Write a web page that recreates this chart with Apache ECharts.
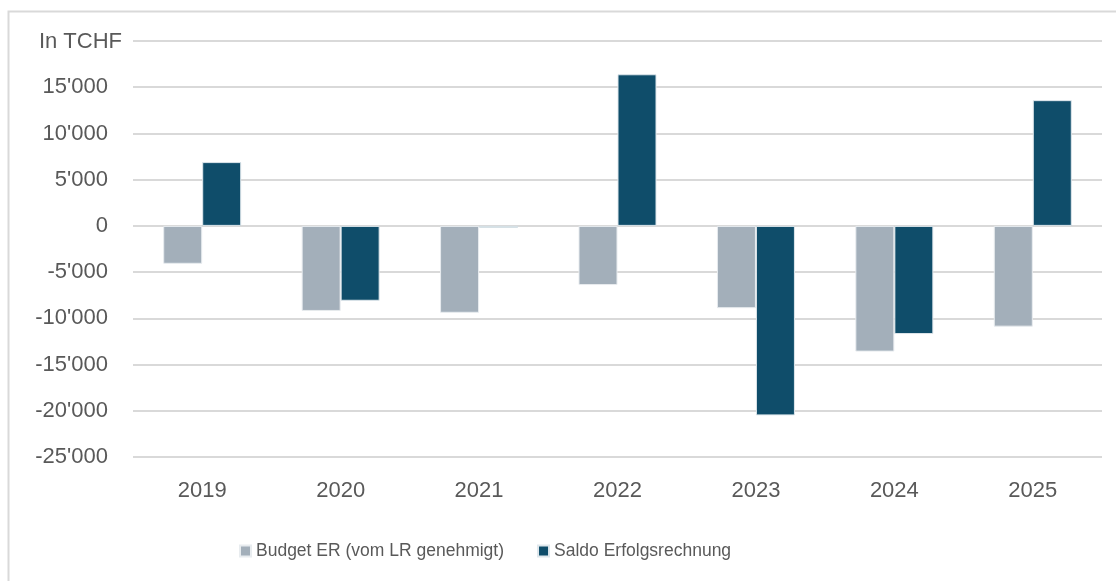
<!DOCTYPE html>
<html>
<head>
    <meta charset="utf-8" />
    <style type="text/css">
        body, html, #chart {width: 100%; height: 100%; overflow: hidden; margin: 0; background: #fff;}
    </style>
    <title>Budget ER</title>
</head>
<body>
<div id="chart"></div>
<script src="https://cdn.jsdelivr.net/npm/echarts@6/dist/echarts.min.js"></script>
<script type="text/javascript">
    var years = ['2019', '2020', '2021', '2022', '2023', '2024', '2025'];
    var budget = [-4100, -9200, -9400, -6400, -8900, -13600, -10900];
    var saldo = [6900, -8100, -200, 16400, -20500, -11700, 13600];
    var unitLabel = 'In TCHF';

    function fmt(v) {
        if (v === 20000) return '';   // top tick carries the unit instead
        var s = String(Math.abs(v)).replace(/\B(?=(\d{3})+(?!\d))/g, "'");
        return (v < 0 ? '-' : '') + s;
    }

    var myChart = echarts.init(document.getElementById('chart'));
    myChart.setOption({
        animation: false,
        textStyle: {fontFamily: 'Liberation Sans, Arial, sans-serif'},
        graphic: [{
            type: 'rect',
            shape: {x: 8.5, y: 11.5, width: 1200, height: 700},
            style: {fill: 'none', stroke: '#d9d9d9', lineWidth: 2}
        }, {
            type: 'text',
            x: 122,
            y: 42,
            style: {
                text: unitLabel,
                align: 'right',
                verticalAlign: 'middle',
                fill: '#595959',
                font: '22px Liberation Sans, Arial, sans-serif'
            }
        }],
        grid: {left: 133, right: 14, top: 41, bottom: 124},
        legend: {
            top: 537,
            left: 234,
            itemWidth: 11,
            itemHeight: 11,
            itemGap: 33,
            icon: 'rect',
            textStyle: {
                fontFamily: 'Liberation Sans Narrow, Liberation Sans, sans-serif',
                fontSize: 17.5,
                color: '#595959'
            },
            data: ['Budget ER (vom LR genehmigt)', 'Saldo Erfolgsrechnung']
        },
        xAxis: {
            type: 'category',
            data: years,
            axisLine: {show: false},
            axisTick: {show: false},
            axisLabel: {color: '#595959', fontSize: 22, margin: 23}
        },
        yAxis: {
            type: 'value',
            min: -25000,
            max: 20000,
            interval: 5000,
            axisLabel: {color: '#595959', fontSize: 22, margin: 25, formatter: fmt},
            splitLine: {lineStyle: {color: '#d9d9d9', width: 2}}
        },
        series: [{
            name: 'Budget ER (vom LR genehmigt)',
            type: 'bar',
            data: budget,
            barWidth: 39,
            barGap: '0%',
            itemStyle: {color: '#a3afba', borderColor: '#e8ecef', borderWidth: 1}
        }, {
            name: 'Saldo Erfolgsrechnung',
            type: 'bar',
            data: saldo,
            barWidth: 39,
            barGap: '0%',
            itemStyle: {color: '#0f4d6a', borderColor: '#dfe7ec', borderWidth: 1}
        }]
    });
</script>
</body>
</html>
